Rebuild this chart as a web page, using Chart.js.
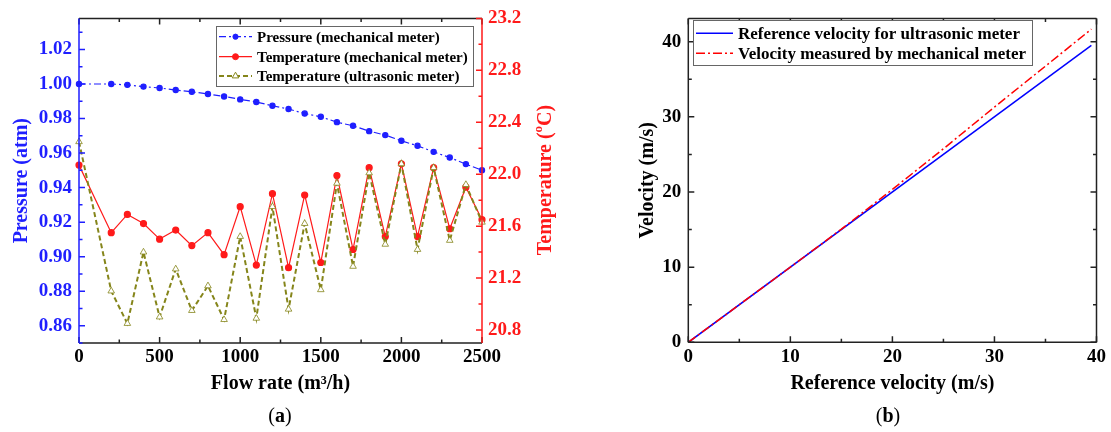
<!DOCTYPE html>
<html>
<head>
<meta charset="utf-8">
<script src="https://cdn.jsdelivr.net/npm/chart.js@4.4.0/dist/chart.umd.min.js"></script>
<style>
html, body { margin: 0; padding: 0; background: #fff; }
body { width: 1111px; height: 432px; position: relative; overflow: hidden; }
#chartA { position: absolute; left: 0; top: 0; }
#chartB { position: absolute; left: 600px; top: 0; }
.cap { position: absolute; top: 404px; line-height: 24px; font: 20px 'Liberation Serif', serif; color: #000; transform: translateX(-50%); }
</style>
</head>
<body>
<canvas id="chartA" width="570" height="432"></canvas>
<canvas id="chartB" width="511" height="432"></canvas>
<div class="cap" style="left:280px">(<b>a</b>)</div>
<div class="cap" style="left:888px">(<b>b</b>)</div>
<script>
// (a) flow rate sweep
const flowRate = [0, 200, 300, 400, 500, 600, 700, 800, 900, 1000, 1100, 1200, 1300,
    1400, 1500, 1600, 1700, 1800, 1900, 2000, 2100, 2200, 2300, 2400, 2500];
const pressureMech = [1.000, 1.000, 0.9995, 0.9985, 0.9977, 0.9965, 0.9955, 0.9942, 0.9928,
    0.9911, 0.9896, 0.9874, 0.9855, 0.9829, 0.9810, 0.9779, 0.9758, 0.9727, 0.9704,
    0.9671, 0.9642, 0.9607, 0.9574, 0.9536, 0.9501];
const tempMech = [22.07, 21.55, 21.69, 21.62, 21.50, 21.57, 21.45, 21.55, 21.38, 21.75,
    21.30, 21.85, 21.28, 21.84, 21.32, 21.99, 21.42, 22.05, 21.52, 22.08, 21.52, 22.05,
    21.58, 21.90, 21.65];
const tempUltra = [22.25, 21.10, 20.85, 21.40, 20.90, 21.27, 20.95, 21.14, 20.88, 21.52,
    20.89, 21.75, 20.96, 21.62, 21.11, 21.93, 21.29, 22.01, 21.46, 22.08, 21.42, 22.05,
    21.49, 21.92, 21.63];

const flowTicks = [0, 500, 1000, 1500, 2000, 2500];
const flowMinor = [250, 750, 1250, 1750, 2250];
const pressureTicks = [0.86, 0.88, 0.90, 0.92, 0.94, 0.96, 0.98, 1.00, 1.02];
const pressureMinor = [0.85, 0.87, 0.89, 0.91, 0.93, 0.95, 0.97, 0.99, 1.01, 1.03];
const tempTicks = [20.8, 21.2, 21.6, 22.0, 22.4, 22.8, 23.2];
const tempMinor = [21.0, 21.4, 21.8, 22.2, 22.6, 23.0];

// (b) velocity comparison
const refVelocity = [0, 39.5];
const ultrasonicVelocity = [0, 39.5];
const mechRefVelocity = [0, 10, 15, 20, 25, 30, 35, 39.5];
const mechVelocity = [0, 10, 15.05, 20.35, 25.75, 31.3, 36.75, 41.67];

const velTicks = [0, 10, 20, 30, 40];
const velMinor = [5, 15, 25, 35];
const velYMinor = [5, 15, 25, 35];

const SERIF = "'Liberation Serif', 'Times New Roman', serif";
const BLUE = '#1f1fff';
const RED = '#ff1a1a';
const OLIVE = '#85851a';

function pts(xs, ys) { return xs.map((x, i) => ({ x: x, y: ys[i] })); }
function fixTicks(list) { return axis => { axis.ticks = list.map(v => ({ value: v })); }; }
function fixWidth(w) { return axis => { axis.width = w; }; }
function fixHeight(h) { return axis => { axis.height = h; }; }

const framePlugin = {
    id: 'frame',
    afterDatasetsDraw(chart, args, opts) {
        const ctx = chart.ctx;
        const a = chart.chartArea;
        ctx.save();
        ctx.lineWidth = 1.5;
        ctx.setLineDash([]);
        opts.sides.forEach(s => {
            const scale = chart.scales[s.scale];
            ctx.strokeStyle = s.color;
            ctx.beginPath();
            if (s.edge === 'left') { ctx.moveTo(a.left, a.top); ctx.lineTo(a.left, a.bottom); }
            if (s.edge === 'right') { ctx.moveTo(a.right, a.top); ctx.lineTo(a.right, a.bottom); }
            if (s.edge === 'top') { ctx.moveTo(a.left, a.top); ctx.lineTo(a.right, a.top); }
            if (s.edge === 'bottom') { ctx.moveTo(a.left, a.bottom); ctx.lineTo(a.right, a.bottom); }
            const mark = (v, len) => {
                const p = scale.getPixelForValue(v);
                if (s.edge === 'left') { ctx.moveTo(a.left, p); ctx.lineTo(a.left + len, p); }
                if (s.edge === 'right') { ctx.moveTo(a.right, p); ctx.lineTo(a.right - len, p); }
                if (s.edge === 'top') { ctx.moveTo(p, a.top); ctx.lineTo(p, a.top + len); }
                if (s.edge === 'bottom') { ctx.moveTo(p, a.bottom); ctx.lineTo(p, a.bottom - len); }
            };
            s.major.forEach(v => mark(v, 6));
            s.minor.forEach(v => {
                if (v >= scale.min && v <= scale.max) mark(v, 3.5);
            });
            ctx.stroke();
        });
        ctx.restore();
    },
    afterDraw(chart, args, opts) {
        const ctx = chart.ctx;
        const lg = opts.legend;
        ctx.save();
        ctx.fillStyle = '#fff';
        ctx.fillRect(lg.x, lg.y, lg.w, lg.h);
        ctx.strokeStyle = '#666';
        ctx.lineWidth = 1;
        ctx.strokeRect(lg.x + 0.5, lg.y + 0.5, lg.w, lg.h);
        ctx.font = 'bold ' + lg.size + 'px ' + SERIF;
        ctx.textBaseline = 'middle';
        ctx.textAlign = 'left';
        lg.items.forEach((idx, k) => {
            const ds = chart.data.datasets[idx];
            const y = lg.rows[k];
            ctx.strokeStyle = ds.borderColor;
            ctx.lineWidth = ds.borderWidth;
            ctx.setLineDash(ds.borderDash || []);
            ctx.beginPath();
            ctx.moveTo(lg.x0, y);
            ctx.lineTo(lg.x1, y);
            ctx.stroke();
            ctx.setLineDash([]);
            if (ds.pointRadius > 0) {
                ctx.fillStyle = ds.pointBackgroundColor;
                ctx.strokeStyle = ds.pointBorderColor;
                ctx.lineWidth = 1;
                Chart.helpers.drawPoint(ctx, { pointStyle: ds.pointStyle, radius: ds.pointRadius, borderWidth: 1, rotation: 0 }, (lg.x0 + lg.x1) / 2, y);
            }
            ctx.fillStyle = '#000';
            ctx.fillText(ds.label, lg.tx, y + 1);
        });
        if (opts.sideTitle) {
            const t = opts.sideTitle;
            ctx.translate(t.x, t.y);
            ctx.rotate(-Math.PI / 2);
            ctx.fillStyle = t.color;
            ctx.textBaseline = 'middle';
            const big = 'bold 20px ' + SERIF;
            const small = 'bold 13px ' + SERIF;
            ctx.font = big;
            const w1 = ctx.measureText(t.before).width;
            const w3 = ctx.measureText(t.after).width;
            ctx.font = small;
            const w2 = ctx.measureText(t.sup).width;
            let x = -(w1 + w2 + w3) / 2;
            ctx.font = big;
            ctx.fillText(t.before, x, 0);
            x += w1;
            ctx.font = small;
            ctx.fillText(t.sup, x, -7);
            x += w2;
            ctx.font = big;
            ctx.fillText(t.after, x, 0);
        }
        ctx.restore();
    }
};

const tickFont = { family: SERIF, size: 19, weight: 'bold' };
const titleFont = { family: SERIF, size: 20, weight: 'bold' };

new Chart(document.getElementById('chartA'), {
    type: 'line',
    data: {
        datasets: [{
            label: 'Pressure (mechanical meter)',
            data: pts(flowRate, pressureMech),
            yAxisID: 'y',
            borderColor: BLUE,
            borderWidth: 1.2,
            borderDash: [7, 3, 2, 3],
            pointStyle: 'circle',
            pointRadius: 2.6,
            pointBackgroundColor: BLUE,
            pointBorderColor: BLUE,
            order: 0,
            clip: false
        }, {
            label: 'Temperature (mechanical meter)',
            data: pts(flowRate, tempMech),
            yAxisID: 'y1',
            borderColor: RED,
            borderWidth: 1.2,
            pointStyle: 'circle',
            pointRadius: 3,
            pointBackgroundColor: RED,
            pointBorderColor: RED,
            order: 2,
            clip: false
        }, {
            label: 'Temperature (ultrasonic meter)',
            data: pts(flowRate, tempUltra),
            yAxisID: 'y1',
            borderColor: OLIVE,
            borderWidth: 2,
            borderDash: [5, 3],
            pointStyle: 'triangle',
            pointRadius: 3.8,
            pointBackgroundColor: '#fff',
            pointBorderColor: OLIVE,
            pointBorderWidth: 0.8,
            order: 1,
            clip: false
        }]
    },
    options: {
        responsive: false,
        animation: false,
        layout: { autoPadding: false, padding: { top: 17.5, left: 0, right: 0, bottom: 0 } },
        plugins: {
            legend: { display: false },
            tooltip: { enabled: false },
            frame: {
                sides: [
                    { edge: 'top', scale: 'x', color: '#222', major: flowTicks, minor: flowMinor },
                    { edge: 'bottom', scale: 'x', color: '#222', major: flowTicks, minor: flowMinor },
                    { edge: 'left', scale: 'y', color: BLUE, major: pressureTicks, minor: pressureMinor },
                    { edge: 'right', scale: 'y1', color: RED, major: tempTicks, minor: tempMinor }
                ],
                legend: { x: 216, y: 26, w: 257, h: 60, x0: 219, x1: 252, tx: 257, size: 15,
                    rows: [36.7, 56.7, 76], items: [0, 1, 2] },
                sideTitle: { x: 546, y: 180, color: RED, before: 'Temperature (', sup: 'o', after: 'C)' }
            }
        },
        scales: {
            x: {
                type: 'linear', min: 0, max: 2500,
                afterBuildTicks: fixTicks(flowTicks),
                afterFit: fixHeight(89),
                grid: { display: false, drawTicks: false },
                border: { display: false },
                ticks: { color: '#000', font: tickFont, padding: 3, maxRotation: 0, callback: v => String(v) },
                title: { display: true, text: 'Flow rate (m\u00b3/h)', color: '#000', font: titleFont, padding: { top: 0, bottom: 36 } }
            },
            y: {
                position: 'left', min: 0.85, max: 1.038,
                afterBuildTicks: fixTicks(pressureTicks),
                afterFit: fixWidth(79),
                grid: { display: false, drawTicks: false },
                border: { display: false },
                ticks: { color: BLUE, font: tickFont, padding: 7, callback: v => v.toFixed(2) },
                title: { display: true, text: 'Pressure (atm)', color: BLUE, font: titleFont, padding: { top: 10, bottom: 0 } }
            },
            y1: {
                position: 'right', min: 20.7, max: 23.2,
                afterBuildTicks: fixTicks(tempTicks),
                afterFit: fixWidth(88),
                grid: { display: false, drawTicks: false },
                border: { display: false },
                ticks: { color: RED, font: tickFont, padding: 6, callback: v => v.toFixed(1) }
            }
        }
    },
    plugins: [framePlugin]
});

new Chart(document.getElementById('chartB'), {
    type: 'line',
    data: {
        datasets: [{
            label: 'Reference velocity for ultrasonic meter',
            data: pts(refVelocity, ultrasonicVelocity),
            borderColor: '#0000ff',
            borderWidth: 1.5,
            pointRadius: 0,
            order: 2
        }, {
            label: 'Velocity measured by mechanical meter',
            data: pts(mechRefVelocity, mechVelocity),
            borderColor: '#ff0000',
            borderWidth: 1.5,
            borderDash: [9, 3, 2, 3],
            pointRadius: 0,
            order: 1
        }]
    },
    options: {
        responsive: false,
        animation: false,
        layout: { autoPadding: false, padding: { top: 14, left: 0, right: 14.5, bottom: 0 } },
        plugins: {
            legend: { display: false },
            tooltip: { enabled: false },
            frame: {
                sides: [
                    { edge: 'top', scale: 'x', color: '#222', major: velTicks, minor: velMinor },
                    { edge: 'bottom', scale: 'x', color: '#222', major: velTicks, minor: velMinor },
                    { edge: 'left', scale: 'y', color: '#222', major: velTicks, minor: velYMinor },
                    { edge: 'right', scale: 'y', color: '#222', major: velTicks, minor: velYMinor }
                ],
                legend: { x: 93, y: 20, w: 339, h: 45, x0: 96, x1: 133, tx: 138, size: 17,
                    rows: [33.3, 53.3], items: [0, 1] }
            }
        },
        scales: {
            x: {
                type: 'linear', min: 0, max: 40,
                afterBuildTicks: fixTicks(velTicks),
                afterFit: fixHeight(89.7),
                grid: { display: false, drawTicks: false },
                border: { display: false },
                ticks: { color: '#000', font: tickFont, padding: 3, maxRotation: 0, callback: v => String(v) },
                title: { display: true, text: 'Reference velocity (m/s)', color: '#000', font: titleFont, padding: { top: 0, bottom: 36 } }
            },
            y: {
                position: 'left', min: 0, max: 43.1,
                afterBuildTicks: fixTicks(velTicks),
                afterFit: fixWidth(88.3),
                grid: { display: false, drawTicks: false },
                border: { display: false },
                ticks: { color: '#000', font: tickFont, padding: 7, callback: v => String(v) },
                title: { display: true, text: 'Velocity (m/s)', color: '#000', font: titleFont, padding: { top: 36, bottom: 0 } }
            }
        }
    },
    plugins: [framePlugin]
});
</script>
</body>
</html>
